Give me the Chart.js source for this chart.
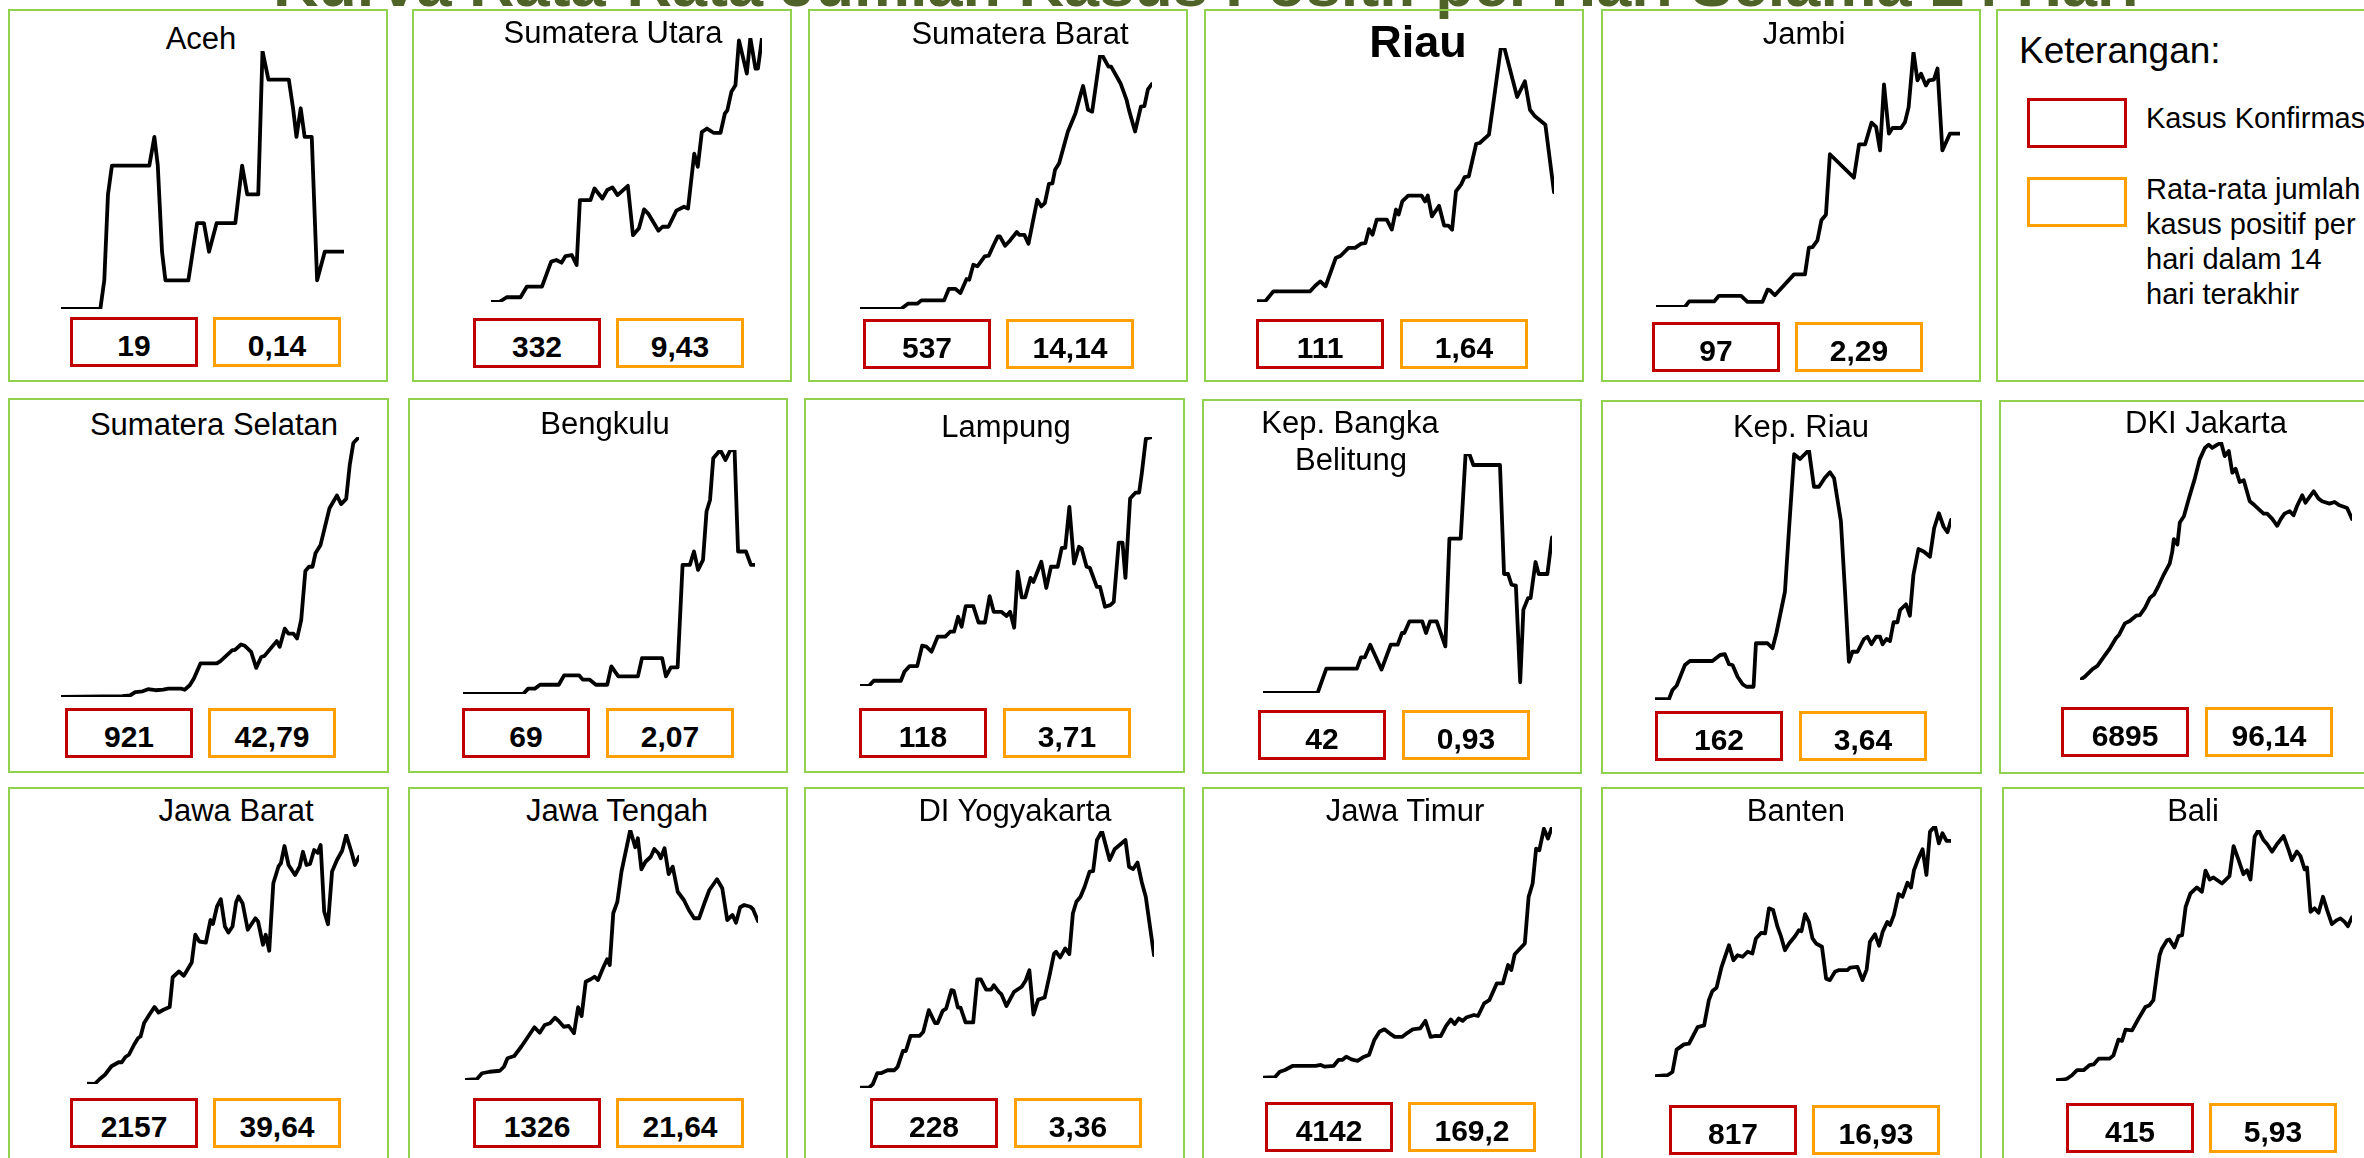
<!DOCTYPE html>
<html><head><meta charset="utf-8">
<script src="https://cdn.jsdelivr.net/npm/chart.js@4.4.1/dist/chart.umd.min.js"></script>
<style>
html,body{margin:0;padding:0;background:#fff;width:2364px;height:1158px;overflow:hidden;}
body{position:relative;font-family:'Liberation Sans',Arial,sans-serif;}
.panel{position:absolute;border:2px solid #92D050;box-sizing:border-box;}
.txt{position:absolute;white-space:nowrap;color:#000;line-height:1;}
.vbox{position:absolute;box-sizing:border-box;width:128px;height:50px;}
.chartwrap{position:absolute;}
</style></head><body>
<script>
// ---------- DATA ----------
const provinces = ['Aceh','Sumatera Utara','Sumatera Barat','Riau','Jambi',
  'Sumatera Selatan','Bengkulu','Lampung','Kep. Bangka Belitung','Kep. Riau','DKI Jakarta',
  'Jawa Barat','Jawa Tengah','DI Yogyakarta','Jawa Timur','Banten','Bali'];
const confirmed = [19,332,537,111,97,921,69,118,42,162,6895,2157,1326,228,4142,817,415];
const avg14 = [0.14,9.43,14.14,1.64,2.29,42.79,2.07,3.71,0.93,3.64,96.14,39.64,21.64,3.36,169.2,16.93,5.93];
const legendTitle = 'Keterangan:';
const legendItems = ['Kasus Konfirmasi','Rata-rata jumlah kasus positif per hari dalam 14 hari terakhir'];
const mainTitle = 'Kurva Rata-Rata Jumlah Kasus Positif per Hari Selama 14 Hari';

// relative 14-day average curves: [day (0-100), value (0-100 of own range)]
const aceh = [[0,0],[13.9,0],[15.3,11.1],[16.6,44.4],[18,55.6],[31.2,55.6],[33,66.7],[34.2,55.6],[35.7,22.2],[36.9,11.1],[45,11.1],[48.1,33.3],[50.5,33.3],[52.3,22.2],[55,33.3],[61.6,33.3],[64,55.6],[65.8,44.4],[69.7,44.4],[71.2,100],[73.3,88.9],[80.5,88.9],[82,77.8],[83.2,66.7],[84.7,77.8],[86.1,66.7],[88.6,66.7],[90.5,11.1],[93.2,22.2],[100,22.2]];
const sumut = [[0,0],[3,0],[5.8,1.8],[10.9,1.8],[13.2,5.8],[18.8,5.8],[22.2,15.3],[24.1,15.9],[26,14.9],[27.5,17.4],[29.8,17.8],[31.6,14],[32.8,38.6],[36.7,38.6],[38.2,43],[41.1,39.2],[42.9,42.4],[44.8,43.4],[46.7,40.5],[50.5,44],[52.4,25.3],[54.6,27.9],[56.5,35.1],[58,33.5],[61.8,27],[63.3,28.5],[65.5,28.5],[68.4,34.6],[71.2,36.1],[72.7,35.4],[75,56.2],[76.3,51.2],[77.8,64.4],[79.7,65.7],[82.1,64.1],[84.7,64.1],[86.3,71.4],[87.2,72.6],[88.7,79.6],[90.2,82.1],[91.5,99.1],[94.4,86.5],[95.7,100],[97.6,88.4],[98.5,88.4],[100,100]];
const sumbar = [[0,0],[14,0],[16.4,2.1],[19.6,2.1],[21,3.4],[28.8,3.4],[30.4,7.9],[32.7,7.9],[34.4,6.3],[36.5,11.8],[37.4,11.5],[38.8,17.4],[40.2,16.8],[42.7,20.7],[44.1,21],[45.8,25.3],[47.2,28.6],[47.9,28.6],[49.7,24.9],[51.4,27],[53.7,30.3],[54.5,29.2],[56.3,29.2],[57.7,25.7],[60.7,43],[62.1,40.4],[63.3,41.7],[64.7,49.3],[65.9,49.5],[66.8,54.8],[68.2,57.4],[71.2,69.9],[73.8,77.1],[75.5,84.3],[76.4,87.8],[78.1,78.4],[79.5,77.7],[82.2,99.6],[82.9,100],[85.1,95.4],[86,95.4],[89.2,88.9],[91.3,82.3],[92.1,78.4],[94.2,69.9],[96.2,79.7],[97.4,79.9],[98.6,86.5],[100,88.6]];
const riau = [[0,0.3],[2.8,0.3],[5.5,4.2],[17.9,4.2],[19.6,6.4],[21.3,8.1],[23.1,6.2],[26.5,17.3],[28.2,18.2],[30.8,21.3],[33,21.3],[35.1,23],[36.5,23.2],[37.7,28.7],[38.9,26.5],[40.3,32.4],[43.7,32.4],[45.4,28.5],[46.8,36.4],[47.7,34.4],[48.9,39.6],[50.9,41.9],[55.4,41.9],[56.6,39.6],[57.5,41.9],[58.9,33.7],[61.3,37.9],[63,30.1],[64.4,30.1],[65.7,28.5],[67,43.6],[68.7,46.2],[69.9,49.2],[71.3,49.5],[73.8,62.3],[75,62.6],[78.1,65.9],[79.9,81],[82.1,100],[83.3,100],[87.6,80.7],[90.2,86.9],[91.9,75.7],[93.6,73.1],[97.1,69.8],[100,43.2]];
const jambi = [[0,0],[9.5,0],[10.9,2.2],[19.1,2.2],[20.7,4.4],[28,4.4],[30.1,2],[35,2],[36.7,6.8],[37.5,6.5],[39.1,4.6],[45.4,12.8],[49,12.8],[50.3,23.3],[51.5,23.5],[53.1,26.1],[54.4,34],[55.9,36.2],[57.2,59.9],[65.1,50.7],[66.8,63.8],[68.8,63.8],[70.9,72.3],[72.4,70.6],[73.7,61.4],[75,87.3],[76.6,68],[77.8,70.2],[80.6,70.2],[81.9,72.5],[83.1,78.4],[84.7,100],[86,88.9],[87.2,91.5],[88.8,86.9],[89.8,88.9],[91.4,89.2],[92.6,93.5],[94.2,61.4],[96.7,68],[100,68]];
const sumsel = [[0,0],[20.6,0.3],[23.2,0.6],[24.9,1.9],[27.4,2.2],[29.2,3],[31.7,2.6],[34.3,2.8],[36,3.2],[40.3,3.2],[41.5,2.8],[43.2,4.5],[44.6,7.1],[46.8,12.9],[52.3,12.9],[53.5,13.8],[57.5,18],[58.3,18],[60.4,20.2],[61.7,19.7],[63.8,17.4],[65.5,11.2],[67.2,15.4],[68.3,15.8],[70.3,18.6],[72.4,21.5],[73.4,19.3],[75.1,26.3],[76.3,24.4],[78,24.4],[79.2,22.5],[80.6,29.6],[82,48.5],[83.2,50.1],[84.4,50.1],[85.4,55.3],[87.1,58.5],[90.1,72.6],[92.6,77.5],[94,74.2],[95.7,76.2],[96.9,89.3],[98.1,97.7],[100,100]];
const bengkulu = [[0,0],[20.6,0],[22.3,2.2],[24.6,2.2],[26.4,3.8],[32.8,3.8],[34.6,7.6],[39.8,7.6],[41,5.9],[43.3,5.9],[45.5,3.8],[49.4,3.8],[50.8,11.3],[53.2,7.2],[59.9,7.2],[61.3,14.7],[68.2,14.7],[69.5,7.2],[71.2,10.9],[73.5,10.9],[75.2,52.9],[77.7,52.9],[79.1,58.4],[80.5,50.9],[82.2,55],[83.4,74.8],[84.6,79.5],[85.7,96.6],[88.1,100],[89.9,95.9],[91.6,100],[93,100],[94.2,58.4],[96.9,58.4],[98.6,52.9],[100,52.9]];
const lampung = [[0,0],[3,0],[4.7,2.1],[14,2.1],[15.2,5.7],[17,8],[19.6,8],[21.3,16.2],[22.7,15.8],[24.5,13.8],[26.6,19.8],[29.2,19.8],[30.9,21.8],[32.2,21.8],[33.6,27.8],[34.8,23.8],[36.2,32.1],[38.8,32.1],[40.6,25.5],[42.8,25.5],[44.4,36.1],[45.8,29.8],[48.4,29.8],[50.2,28.1],[51.4,29.8],[52.8,23.4],[54,45.9],[55.4,35.6],[56.6,35.6],[58.4,43.4],[59.4,41.8],[62.1,49.9],[63.8,39.4],[65.4,47.9],[67.7,47.9],[69.1,55.5],[70.3,55.5],[71.7,71.9],[73.3,49.2],[75,55.9],[75.9,55.2],[77.6,47.9],[78.7,47.5],[81.1,39.8],[82.2,39.8],[83.9,31.8],[85.7,32.5],[86.9,33.8],[88.6,57.6],[89.9,57.6],[90.9,43.4],[92.5,75.3],[94.4,77.7],[95.6,77.7],[96.5,85.3],[97.9,99.3],[100,100]];
const babel = [[0,0],[18.9,0],[21.9,10.2],[32.5,10.2],[33.9,14.9],[35.2,14.9],[37.1,20.2],[41,9.8],[44.2,20.2],[46.6,20.2],[48.1,25.1],[48.9,25.1],[50.7,30],[55.1,30],[56.4,25.1],[57.8,30],[60.1,30],[63.1,19.5],[64.5,64.6],[68.4,64.6],[70.1,100],[71.4,100],[72.8,95.4],[82,95.4],[83.4,49.8],[84.8,49.8],[86,45.3],[87.5,44.9],[89,4.5],[90.1,34.9],[91.7,39.7],[92.6,39.7],[94.3,54.8],[95.4,49.8],[98.4,49.8],[100,65.1]];
const kepriau = [[0,0.3],[4.7,0.3],[5.9,4],[7.3,5.7],[10.1,14],[11.8,15.6],[19.4,15.6],[22,18],[23.6,18.3],[25,14.3],[26.2,14],[27.9,9.3],[29.6,6.3],[30.9,5.3],[33.3,5.3],[34.1,22.7],[38,22.7],[39.7,20.7],[41,26.7],[43.9,43.3],[45.3,68.7],[47,98.3],[49,96.4],[52,100],[53.7,85.3],[55.4,85.3],[57.4,88.9],[59.1,91.1],[60.5,88.7],[62.8,71.6],[64.2,43.3],[65.5,15.3],[66.7,19.3],[68.4,19.3],[70.6,24.4],[71.8,25.3],[73.1,22.3],[74.7,25.3],[76,25.3],[76.9,22.3],[78.2,24.4],[79.4,23.6],[80.6,31.1],[81.9,31.1],[82.8,36],[84.8,38.3],[86.1,33.7],[87.3,50],[89,60.4],[90.9,59.3],[92.9,57.3],[94.3,68.7],[95.9,74.7],[97.5,69.3],[98.8,67.1],[100,72]];
const dki = [[0,0],[1.8,1.4],[4.6,4.6],[6.4,5.9],[8.8,9.8],[11,13.3],[13.2,17.5],[14.3,18.9],[16.5,23.8],[18.3,24.8],[20.6,27],[22,27.3],[23.9,30.3],[25.7,34.5],[27.2,35.9],[29,39.9],[30.8,44.3],[33,49],[33.9,53.8],[34.5,59.2],[35.8,56.9],[36.7,66.2],[38.2,68.8],[40,76.2],[42.2,84.6],[44,92.7],[45.9,97.5],[47.3,98.9],[48.6,97.5],[50.5,98.9],[51.9,99.7],[53.2,94.1],[54.7,96.2],[56,87.1],[57.2,88.8],[58.7,83.2],[60.2,83.9],[62.4,75.1],[64.2,73.4],[67.5,69.9],[68.8,69.9],[70.6,67.8],[72.5,64.8],[73.8,67.6],[75.2,69.9],[77.1,70.9],[78.5,69.2],[79.8,73.1],[81.7,77.6],[82.9,74.5],[85.9,79.3],[87.7,76.2],[89,75.1],[91.7,74.1],[93.6,74.8],[95.4,73.4],[98.2,72.3],[100,67.6]];
const jabar = [[0,0.1],[2.8,0],[4.7,2],[6.6,3.7],[9,7.1],[11.6,8.7],[12.8,8.7],[14.1,10.8],[15.4,11.7],[17.3,15.7],[18.8,18.4],[19.7,19],[21,24.4],[22.9,27.7],[24.8,30.8],[26.3,28.6],[28.1,29.7],[30.4,30.8],[31.5,42.7],[33.8,45],[35.6,43.3],[38.5,48.6],[39.8,59.7],[41.3,57],[43.7,56.6],[45.4,65.6],[46.3,64],[47.8,71],[49.2,73.9],[50.7,63],[52,60.6],[53.5,63],[54.8,72.6],[55.7,75],[57.2,72.3],[59.1,61.7],[61.9,66.3],[62.9,65],[64.7,55.7],[65.7,59.7],[67,53.3],[68.5,80.3],[70.4,87],[71.3,88.3],[72.6,95.2],[74.1,87.6],[76.5,83.6],[78.2,87],[79.4,92.9],[80.7,87.6],[82,88],[83.5,93.6],[84.8,92.5],[85.9,95.6],[87.2,69],[88.6,63.9],[90.1,85],[91.9,89.6],[93.8,93.3],[95.3,99.6],[97.2,92.9],[98.5,87.6],[100,90.9]];
const jateng = [[0,0],[4,0.3],[5.8,2.7],[8.4,3.3],[11.9,3.7],[13.3,5.3],[14.5,8.7],[16.8,9.6],[19.2,13.3],[21.5,17.3],[23.7,21.1],[25.5,18.9],[27.2,22],[29,22.7],[30.7,24.9],[31.9,23.7],[33.7,21.3],[35.4,21.6],[37.2,18.7],[38.6,29.1],[39.8,25.6],[41.2,39.3],[42.9,40.3],[44.2,41.3],[45.4,40],[47.3,45.3],[48.5,48.3],[49.4,46],[50.6,66.7],[52,71.3],[53.4,83.3],[56.4,100],[58.1,93.1],[59,96.7],[60.2,84.3],[61.6,87.3],[63.4,89.3],[64.6,92.4],[66,90.7],[66.8,88.7],[68.1,92.7],[69.5,82.4],[70.9,85.3],[72.6,75.3],[74.7,72],[76.4,68],[78.2,64.7],[79.9,64.7],[81.7,70.7],[83.4,76],[86,80.3],[87.8,76.7],[89.5,64],[91.3,66],[92.5,62.9],[93.9,69.1],[95.3,70],[97.4,69.3],[98.3,68.3],[100,63.6]];
const diy = [[0,0.1],[3,0.1],[4.3,1.4],[5.9,5.8],[7.3,5.8],[9.4,6.9],[11.6,6.9],[12.8,8.2],[14.6,14.4],[15.6,14.4],[17.2,20.3],[20.3,20.3],[21.5,21.8],[23.4,30.3],[25.5,25.3],[26.4,25.3],[28.1,30],[29.3,30.9],[31.1,38.1],[31.9,37.8],[33.3,31.3],[34.2,31.3],[35.9,25.5],[38.5,25.5],[39.9,42.3],[41.1,42.3],[42.9,38.3],[44.6,38.3],[45.5,40],[47.2,37.4],[48.1,36.5],[49.8,31.9],[52.4,37.4],[55,39.4],[56.3,41.7],[57.6,45.8],[59,28.6],[60.6,34.4],[62.8,35.2],[64.6,44.5],[66,52.3],[66.7,53],[68.1,50.8],[69.8,54.3],[71.2,52.1],[72.4,67.9],[73.6,72.5],[75,74.4],[76.4,78.3],[78.1,84.2],[79.3,84.4],[80.6,96.5],[82.3,100],[84.9,88.7],[86.6,92.9],[90.3,96.5],[91.5,86.1],[92.9,85.2],[94.4,87.7],[95.8,80.3],[97.2,74.4],[100,51.7]];
const jatim = [[0,0.1],[4.1,0.3],[5.8,2.5],[7.6,3.2],[10.2,4.8],[18.2,4.8],[20,5.2],[21.4,4.5],[24.4,4.8],[26.1,7.2],[27.4,7.2],[28.8,8.5],[30.6,7.4],[32.7,6.8],[35,8.5],[36.7,9.2],[38.5,15.1],[40.3,18.4],[42,19.4],[43.8,17.8],[45.6,16.4],[48.2,16.4],[50,18],[51.8,19.4],[54.4,19.8],[56.2,22.8],[58,16.4],[59.7,16.8],[61.5,16.7],[63.3,20.7],[65,23.3],[66.3,21.5],[67.7,23.7],[69.1,22.8],[70.3,24.1],[73,25.1],[74.4,24.7],[76.5,29.7],[78.3,31],[80.9,37.7],[83,37.7],[84.8,45],[85.9,43],[87.1,49.3],[90.6,53.6],[91.9,72.1],[93.3,77.5],[94.5,91.4],[95.6,90.7],[97.2,99.3],[98.6,95.4],[100,100]];
const banten = [[0,0.3],[4.2,0.7],[5.9,2],[7.3,10.9],[9.8,13],[11.5,13.3],[14.4,19.9],[16.6,20.6],[18.2,30.6],[19.4,34.3],[20.8,35.6],[22.5,43.9],[25,52.5],[26.5,46.5],[27.9,48.5],[29.6,47.9],[31.3,49.9],[32.9,49.2],[34.1,55.2],[35.8,57.4],[37.2,57.2],[38.5,67.2],[39.9,66.5],[41.4,59.8],[42.6,55.9],[43.9,50.5],[45.3,53.2],[47.3,56.1],[48.6,58.5],[49.5,58.1],[50.7,64.9],[52,61.8],[53.2,55.2],[54.4,53.2],[56.4,51.9],[57.8,39.2],[59.1,38.6],[60.8,41.9],[62.2,42.6],[65,42.6],[65.9,43.6],[68.4,43.9],[70.1,38.6],[71.5,42.8],[72.6,53.9],[74.3,56.9],[75.7,52.3],[76.9,57.8],[78.5,61.8],[79.4,60.5],[80.7,64.5],[82.3,72.9],[83.6,71.8],[85.3,77.4],[86.5,75.5],[87.5,82.4],[89,87.1],[90.4,90.7],[91.7,80.5],[92.9,97.7],[94.6,100],[95.9,93.1],[97.1,97.1],[98.5,94.1],[100,94.1]];
const bali = [[0,0.3],[2,0.5],[3.7,0.9],[5.4,2.3],[7.1,4.3],[9.3,4.3],[11.3,6.3],[12.7,6.6],[14.4,8.9],[18.1,8.9],[19.4,10.2],[21.1,16.5],[22.3,16],[23.5,20.5],[25.7,20.2],[27.9,24.9],[30.2,29.5],[31.6,30.2],[32.9,32.2],[34.1,42.8],[35,50.1],[35.8,52.8],[37.5,56.1],[38.3,56.4],[40,53.2],[41.4,57.7],[42.6,58.1],[43.8,69.4],[45.4,74.7],[47.6,77.1],[49.3,75.4],[50.5,83.8],[51.9,80.3],[53.2,81.1],[56.1,78.7],[58.6,81.6],[60,93.6],[61.7,88],[63.3,82.4],[64.5,84],[65.7,80.3],[67.1,97.3],[68.4,100],[70.1,96],[71.3,94.4],[73,91.4],[74.7,94.4],[76.9,97.6],[78.6,92],[79.7,88],[81.4,91.4],[82.6,89.6],[84,84.3],[84.8,85.1],[86,67.4],[87.3,68.8],[88.7,67],[90.2,73.4],[91.6,68.1],[93.2,62.5],[94.9,64.1],[96.1,64.8],[97.5,63.4],[98.6,61.7],[100,65.2]];
const series = [aceh,sumut,sumbar,riau,jambi,sumsel,bengkulu,lampung,babel,kepriau,dki,jabar,jateng,diy,jatim,banten,bali];

// ---------- LAYOUT (positions only) ----------
const layout = [
 {panel:[8,9,380,373],    title:[[201,49]],  line:[61,51,344,309],    red:70,   orange:213,  boxY:317},
 {panel:[412,9,380,373],  title:[[613,43]],  line:[491,38,762,302],   red:473,  orange:616,  boxY:318},
 {panel:[808,9,380,373],  title:[[1020,44]], line:[860,55,1152,309],  red:863,  orange:1006, boxY:319},
 {panel:[1204,9,380,373], title:[[1418,57]], line:[1257,48,1554,302], red:1256, orange:1400, boxY:319, big:true},
 {panel:[1601,9,380,373], title:[[1804,44]], line:[1656,52,1960,307], red:1652, orange:1795, boxY:322},
 {panel:[8,398,381,375],  title:[[214,435]], line:[61,437,359,697],   red:65,   orange:208,  boxY:708},
 {panel:[408,398,380,375],title:[[605,434]], line:[463,450,755,694],  red:462,  orange:606,  boxY:708},
 {panel:[804,398,381,375],title:[[1006,437]],line:[860,437,1152,686], red:859,  orange:1003, boxY:708},
 {panel:[1202,399,380,375],title:[[1350,433],[1351,470]],line:[1263,454,1552,693],red:1258,orange:1402,boxY:710},
 {panel:[1601,400,381,374],title:[[1801,437]],line:[1655,450,1951,700],red:1655,orange:1799,boxY:711},
 {panel:[1999,400,500,374],title:[[2206,433]],line:[2080,442,2352,680],red:2061,orange:2205,boxY:707},
 {panel:[8,787,381,400],  title:[[236,821]], line:[87,834,359,1084],  red:70,   orange:213,  boxY:1098},
 {panel:[408,787,380,400],title:[[617,821]], line:[465,830,758,1080], red:473,  orange:616,  boxY:1098},
 {panel:[804,787,381,400],title:[[1015,821]],line:[860,831,1154,1088],red:870,  orange:1014, boxY:1098},
 {panel:[1202,787,380,400],title:[[1405,821]],line:[1263,827,1552,1078],red:1265,orange:1408,boxY:1102},
 {panel:[1601,787,381,400],title:[[1796,821]],line:[1655,826,1951,1077],red:1669,orange:1812,boxY:1105},
 {panel:[2002,787,500,400],title:[[2193,821]],line:[2056,830,2352,1081],red:2066,orange:2209,boxY:1103}
];
const titleSplit = {'Kep. Bangka Belitung':['Kep. Bangka','Belitung']};

// ---------- helpers ----------
function el(cls, style){const d=document.createElement('div');d.className=cls;Object.assign(d.style,style);document.body.appendChild(d);return d;}
function text(str, x, baseline, size, opts){
  opts=opts||{};
  const d=el('txt',{fontSize:size+'px',top:(baseline-0.8465*size)+'px',fontWeight:opts.bold?'bold':'normal',color:opts.color||'#000'});
  d.textContent=str;
  if(opts.align==='center'){d.style.left=(x-1000)+'px';d.style.width='2000px';d.style.textAlign='center';}
  else{d.style.left=x+'px';}
  return d;
}
function fmt(v){return String(v).replace('.',',');}

// main title (cut off at the top edge)
text(mainTitle, 1206, 6, 63, {bold:true,color:'#4F6228',align:'center'});

// legend panel
el('panel',{left:'1996px',top:'9px',width:'500px',height:'373px'});
text(legendTitle, 2019, 63, 37);
el('vbox',{left:'2027px',top:'98px',width:'100px',height:'50px',border:'3px solid #C00000'});
el('vbox',{left:'2027px',top:'177px',width:'100px',height:'50px',border:'3px solid #FFA000'});
text(legendItems[0], 2146, 129, 29);
['Rata-rata jumlah','kasus positif per','hari dalam 14','hari terakhir'].forEach((s,i)=>text(s,2146,200+i*35,29));

// panels
provinces.forEach((name,i)=>{
  const L=layout[i];
  el('panel',{left:L.panel[0]+'px',top:L.panel[1]+'px',width:L.panel[2]+'px',height:L.panel[3]+'px'});
  const lines = titleSplit[name] || [name];
  lines.forEach((t,j)=>{
    const p=L.title[j];
    text(t,p[0],p[1],L.big?45:31,{align:'center',bold:!!L.big});
  });
  // value boxes
  el('vbox',{left:L.red+'px',top:L.boxY+'px',border:'3px solid #C00000'});
  el('vbox',{left:L.orange+'px',top:L.boxY+'px',border:'3px solid #FFA000'});
  text(String(confirmed[i]), L.red+64, L.boxY+39, 30, {bold:true,align:'center'});
  text(fmt(avg14[i]), L.orange+64, L.boxY+39, 30, {bold:true,align:'center'});
  // chart
  const pad=4;
  const [x0,y0,x1,y1]=L.line;
  const wrap=el('chartwrap',{left:(x0-pad)+'px',top:(y0-pad)+'px',width:(x1-x0+2*pad)+'px',height:(y1-y0+2*pad)+'px'});
  const cv=document.createElement('canvas');wrap.appendChild(cv);
  new Chart(cv,{
    type:'line',
    data:{datasets:[{data:series[i].map(p=>({x:p[0],y:p[1]})),borderColor:'#000',borderWidth:3.8,pointRadius:0,tension:0,fill:false,borderJoinStyle:'round',borderCapStyle:'round'}]},
    options:{responsive:true,maintainAspectRatio:false,animation:false,devicePixelRatio:1,
      layout:{padding:pad},
      plugins:{legend:{display:false},tooltip:{enabled:false},title:{display:false}},
      scales:{x:{type:'linear',min:0,max:100,display:false},y:{type:'linear',min:0,max:100,display:false}},
      elements:{line:{borderWidth:3.8}}
    }
  });
});
</script>
</body></html>
